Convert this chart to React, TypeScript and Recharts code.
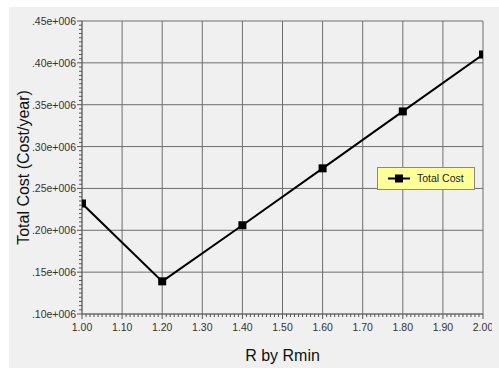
import React from 'react';
import { LineChart, Line, XAxis, YAxis, ReferenceLine } from 'recharts';

const rValues = [1.0, 1.2, 1.4, 1.6, 1.8, 2.0];
const totalCost = [232000, 139000, 206000, 274000, 342000, 410000];

const xMajorTicks = [1.0, 1.1, 1.2, 1.3, 1.4, 1.5, 1.6, 1.7, 1.8, 1.9, 2.0];
const yMajorTicks = [100000, 150000, 200000, 250000, 300000, 350000, 400000, 450000];

// minor ticks: 10 per major division
const xTicks: number[] = [];
for (let i = 0; i <= 100; i++) xTicks.push(Math.round((1 + i * 0.01) * 100) / 100);
const yTicks: number[] = [];
for (let i = 0; i <= 70; i++) yTicks.push(100000 + i * 5000);

const data = rValues.map((r, i) => ({ r, cost: totalCost[i] }));

const FONT = '"Liberation Sans", Arial, sans-serif';
const GRID = '#6e6e6e';

const isMajorX = (v: number) => xMajorTicks.some(t => Math.abs(t - v) < 1e-6);
const isMajorY = (v: number) => yMajorTicks.includes(v);

function formatY(v: number) {
  return '.' + String(Math.round(v / 10000)).padStart(2, '0') + 'e+006';
}

function XTick({ x, y, payload }: any) {
  const major = isMajorX(payload.value);
  return (
    <g>
      <line x1={x} x2={x} y1={y} y2={y + (major ? 5 : 3)} stroke="#555" strokeWidth={1} />
      {major && (
        <text x={x} y={y + 17} textAnchor="middle" fontSize={10.5} fontFamily={FONT} fill="#333">
          {payload.value.toFixed(2)}
        </text>
      )}
    </g>
  );
}

function YTick({ x, y, payload }: any) {
  const major = isMajorY(payload.value);
  return (
    <g>
      <line x1={x - (major ? 5 : 3)} x2={x} y1={y} y2={y} stroke="#555" strokeWidth={1} />
      {major && (
        <text x={x - 6} y={y + 4} textAnchor="end" fontSize={10.5} fontFamily={FONT} fill="#333">
          {formatY(payload.value)}
        </text>
      )}
    </g>
  );
}

function SquareDot({ cx, cy }: any) {
  return <rect x={cx - 4} y={cy - 4} width={8} height={8} fill="#000" />;
}

export default function App() {
  return (
    <div style={{ position: 'absolute', left: 0, top: 0, width: 499, height: 368, background: '#fff', overflow: 'hidden' }}>
      <div style={{ position: 'absolute', left: 9, top: 7, right: 0, bottom: 0, background: '#f0f0f0' }} />
      <div style={{ position: 'absolute', left: 0, top: 0 }}>
        <LineChart width={492} height={368} data={data} margin={{ top: 21, right: 9, bottom: 0, left: 0 }} style={{ overflow: 'hidden' }}>
          <XAxis
            dataKey="r"
            type="number"
            domain={[1, 2]}
            ticks={xTicks}
            interval={0}
            tickSize={0}
            tickMargin={0}
            tickLine={false}
            axisLine={{ stroke: GRID }}
            tick={<XTick />}
            height={54}
            allowDataOverflow
            label={{ value: 'R by Rmin', position: 'insideBottom', offset: 7, fontSize: 16, fontFamily: FONT, fill: '#111' }}
          />
          <YAxis
            type="number"
            domain={[100000, 450000]}
            ticks={yTicks}
            interval={0}
            tickSize={0}
            tickMargin={0}
            tickLine={false}
            axisLine={{ stroke: GRID }}
            tick={<YTick />}
            width={82}
            allowDataOverflow
            label={{ value: 'Total Cost (Cost/year)', angle: -90, position: 'insideLeft', offset: 23, fontSize: 16, fontFamily: FONT, fill: '#111', style: { textAnchor: 'middle' } }}
          />
          {xMajorTicks.map(t => (
            <ReferenceLine key={'x' + t} x={t} stroke={GRID} strokeWidth={1} />
          ))}
          {yMajorTicks.map(t => (
            <ReferenceLine key={'y' + t} y={t} stroke={GRID} strokeWidth={1} />
          ))}
          <Line
            dataKey="cost"
            stroke="#000"
            strokeWidth={2}
            dot={<SquareDot />}
            activeDot={false}
            isAnimationActive={false}
          />
        </LineChart>
      </div>
      <div
        style={{
          position: 'absolute', left: 377, top: 167, width: 98, height: 23,
          background: '#ffff99', border: '1px solid #888', boxSizing: 'border-box',
          fontFamily: FONT, fontSize: 10.5, color: '#222',
        }}
      >
        <svg width={30} height={21} style={{ position: 'absolute', left: 8, top: 0 }}>
          <line x1={2} x2={24} y1={10.5} y2={10.5} stroke="#000" strokeWidth={2} />
          <rect x={9} y={6.5} width={8} height={8} fill="#000" />
        </svg>
        <span style={{ position: 'absolute', left: 39, top: 4 }}>Total Cost</span>
      </div>
    </div>
  );
}
